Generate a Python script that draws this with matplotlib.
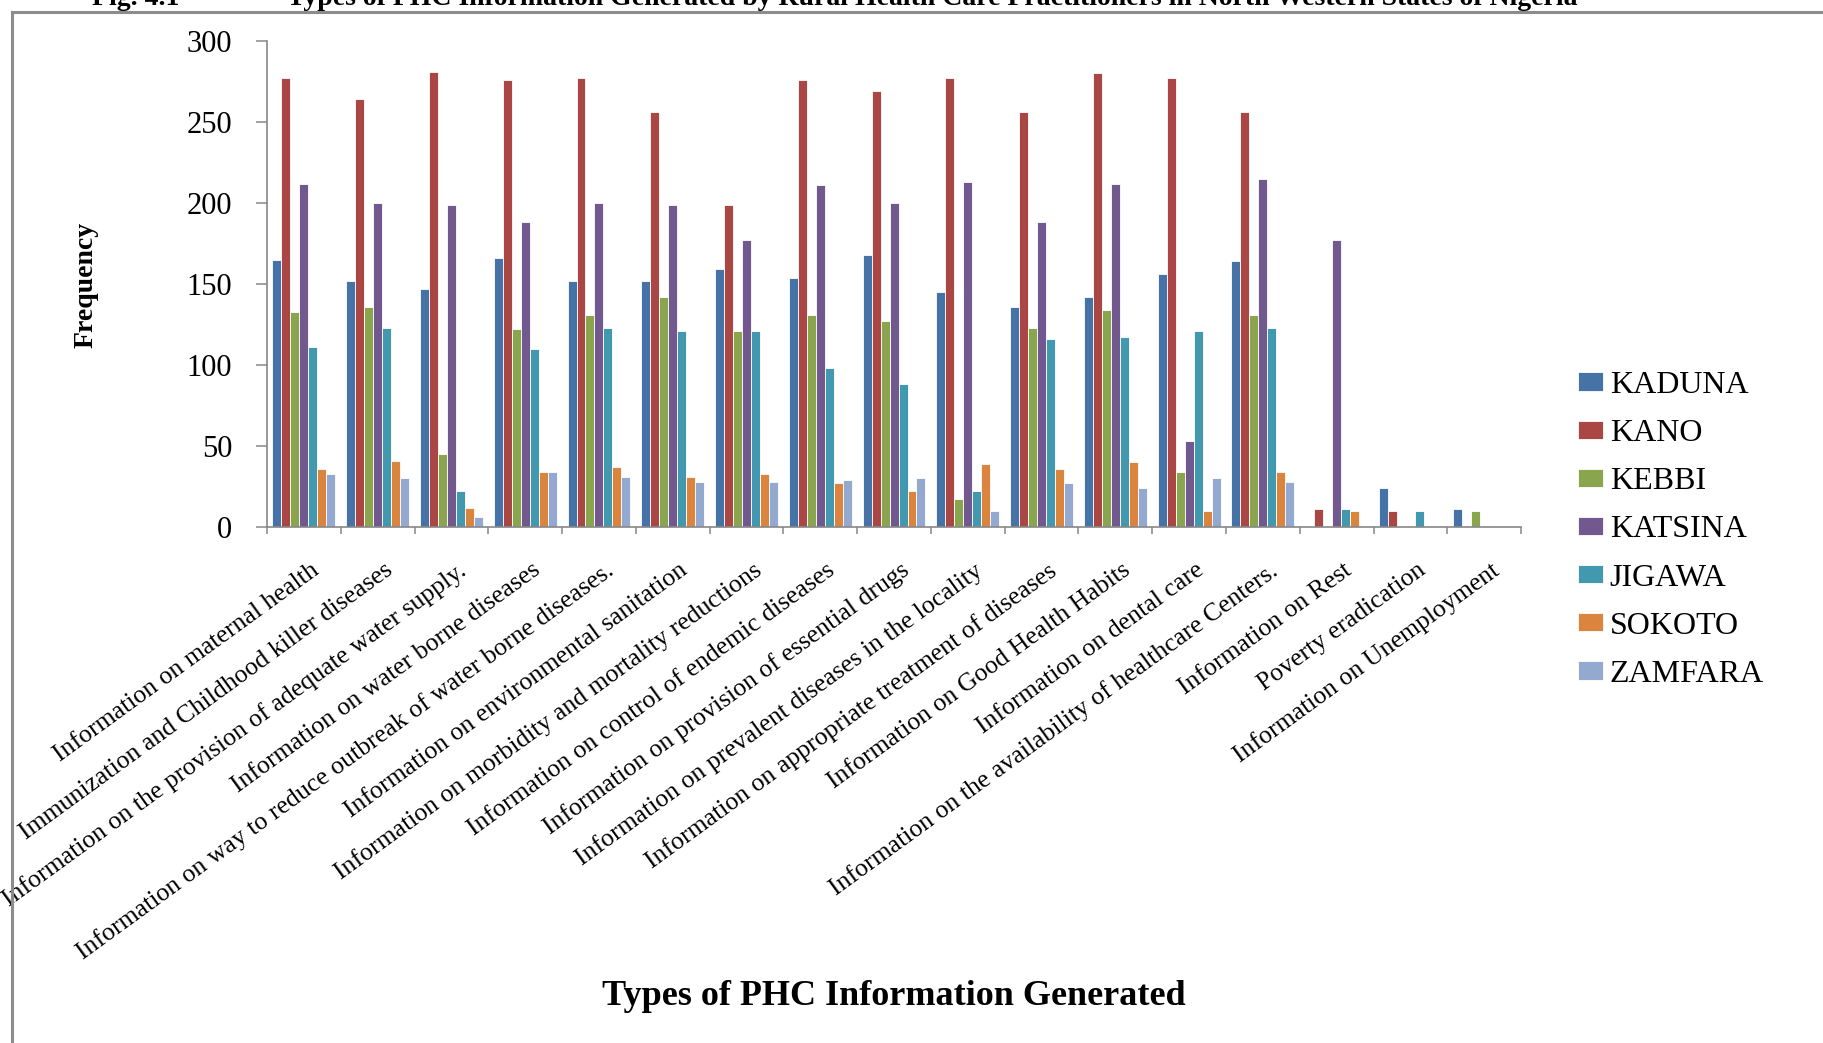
#!/usr/bin/python
# -*- coding: utf-8 -*-

import numpy as np
import matplotlib
matplotlib.use('Agg')
import matplotlib.pyplot as plt
from matplotlib.lines import Line2D
from matplotlib.transforms import ScaledTranslation

matplotlib.rcParams['font.family'] = ['Liberation Serif', 'DejaVu Serif']

categories = [
    'Information on maternal health',
    'Immunization and Childhood killer diseases',
    'Information on the provision of adequate water supply.',
    'Information on water borne diseases',
    'Information on way to reduce outbreak of water borne diseases.',
    'Information on environmental sanitation',
    'Information on morbidity and mortality reductions',
    'Information on control of endemic diseases',
    'Information on provision of essential drugs',
    'Information on prevalent diseases in the locality',
    'Information on appropriate treatment of diseases',
    'Information on Good Health Habits',
    'Information on dental care',
    'Information on the availability of healthcare Centers.',
    'Information on Rest',
    'Poverty eradication',
    'Information on Unemployment',
]

states = ['KADUNA', 'KANO', 'KEBBI', 'KATSINA', 'JIGAWA', 'SOKOTO', 'ZAMFARA']

kaduna  = [165, 152, 147, 166, 152, 152, 159, 154, 168, 145, 136, 142, 156, 164, 0, 24, 11]
kano    = [277, 264, 281, 276, 277, 256, 199, 276, 269, 277, 256, 280, 277, 256, 11, 10, 0]
kebbi   = [133, 136, 45, 122, 131, 142, 121, 131, 127, 17, 123, 134, 34, 131, 0, 0, 10]
katsina = [212, 200, 199, 188, 200, 199, 177, 211, 200, 213, 188, 212, 53, 215, 177, 0, 0]
jigawa  = [111, 123, 22, 110, 123, 121, 121, 98, 88, 22, 116, 117, 121, 123, 11, 10, 0]
sokoto  = [36, 41, 12, 34, 37, 31, 33, 27, 22, 39, 36, 40, 10, 34, 10, 0, 0]
zamfara = [33, 30, 6, 34, 31, 28, 28, 29, 30, 10, 27, 24, 30, 28, 0, 0, 0]

series = [kaduna, kano, kebbi, katsina, jigawa, sokoto, zamfara]
colors = ['#4572A7', '#AA4643', '#89A54E', '#71588F', '#4198AF', '#DB843D', '#93A9CF']

fig = plt.figure(figsize=(18.24, 10.43), dpi=100)
ax = fig.add_axes([0.1464, 0.4947, 0.6875, 0.466])

x = np.arange(len(categories)) + 0.5
w = 1.0 / (len(states) + 1.21)
for i, (vals, c, name) in enumerate(zip(series, colors, states)):
    ax.bar(x + (i - 3) * w, vals, w, color=c, edgecolor='white', linewidth=0.6, label=name)

ax.set_xlim(0, len(categories))
ax.set_ylim(0, 300)
ax.set_yticks(np.arange(0, 301, 50))

gray = '#878787'
for s in ['top', 'right']:
    ax.spines[s].set_visible(False)
for s in ['left', 'bottom']:
    ax.spines[s].set_color(gray)
    ax.spines[s].set_linewidth(1.2)

ax.tick_params(axis='y', direction='out', length=8, width=1.1, color=gray, pad=17, labelsize=22)
ax.set_xticks(np.arange(len(categories) + 1), minor=True)
ax.tick_params(axis='x', which='minor', direction='out', length=5, width=1.1, color=gray)
ax.set_xticks(x)
ax.set_xticklabels(categories)
ax.tick_params(axis='x', which='major', length=0, pad=23, labelsize=18.5)
shift = ScaledTranslation(6 / 100., 0, fig.dpi_scale_trans)
for lab in ax.get_xticklabels():
    lab.set_rotation(36)
    lab.set_ha('right')
    lab.set_va('top')
    lab.set_rotation_mode('anchor')
    lab.set_transform(lab.get_transform() + shift)

fig.text(0.047, 0.727, 'Frequency', rotation=90, ha='center', va='center',
         fontsize=20, fontweight='bold')
fig.text(0.49, 0.045, 'Types of PHC Information Generated', ha='center', va='center',
         fontsize=26, fontweight='bold')

leg = ax.legend(loc='center left', bbox_to_anchor=(0.865, 0.492), bbox_transform=fig.transFigure,
                frameon=False, fontsize=23, handlelength=0.8, handleheight=0.5,
                handletextpad=0.2, labelspacing=0.6, borderpad=0, borderaxespad=0)

# caption above the chart frame, mostly cut off by the page edge
fig.text(92 / 1824., 1 - 5 / 1043., 'Fig. 4.1', ha='left', va='baseline', fontsize=20, fontweight='bold')
fig.text(287 / 1824., 1 - 5 / 1043.,
         'Types of PHC Information Generated by Rural Health Care Practitioners in North Western States of Nigeria',
         ha='left', va='baseline', fontsize=20, fontweight='bold')

# chart frame
fig.add_artist(Line2D([12 / 1824., 1], [1 - 12 / 1043.] * 2, color='#8c8c8c', lw=2.2,
                      transform=fig.transFigure))
fig.add_artist(Line2D([12 / 1824.] * 2, [0, 1 - 12 / 1043.], color='#8c8c8c', lw=2.2,
                      transform=fig.transFigure))

plt.savefig('out.png', dpi=100)
